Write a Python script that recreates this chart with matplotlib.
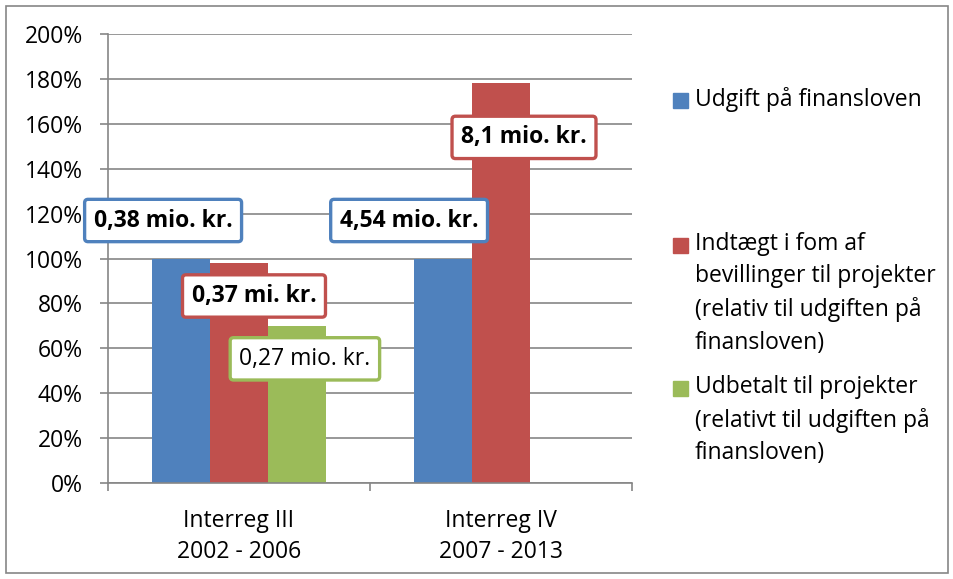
import numpy as np
import matplotlib.pyplot as plt
from matplotlib.patches import Rectangle

plt.rcParams["font.family"] = ["Open Sans", "DejaVu Sans"]

categories = ["Interreg III\n2002 - 2006", "Interreg IV\n2007 - 2013"]
series_names = [
    "Udgift på finansloven",
    "Indtægt i fom af\nbevillinger til projekter\n(relativ til udgiften på\nfinansloven)",
    "Udbetalt til projekter\n(relativt til udgiften på\nfinansloven)",
]
series_colors = ["#4F81BD", "#C0504D", "#9BBB59"]
udgift = [100, 100]
indtaegt = [98, 178]
udbetalt = [70, 0]
values = [udgift, indtaegt, udbetalt]

# data labels: (series, category, text, bold, offset in px from bar top centre)
labels = [
    (0, 0, "0,38 mio. kr.", True, (-18, 38)),
    (0, 1, "4,54 mio. kr.", True, (-34, 38)),
    (1, 0, "0,37 mi. kr.", True, (15, -33)),
    (1, 1, "8,1 mio. kr.", True, (23, -54)),
    (2, 0, "0,27 mio. kr.", False, (8, -33)),
]

fs = 16.5
fig = plt.figure(figsize=(9.54, 5.79), dpi=100)
ax = fig.add_axes([108 / 954, 1 - 483 / 579, 524 / 954, 449 / 579])

x = np.arange(len(categories))
width = 0.221
for i, (vals, col) in enumerate(zip(values, series_colors)):
    ax.bar(x + (i - 1) * width, vals, width, color=col, zorder=2)

ax.set_xlim(-0.5, 1.5)
ax.set_ylim(0, 200)
ax.set_yticks(np.arange(0, 201, 20))
ax.set_yticklabels([f"{v}%" for v in range(0, 201, 20)], fontsize=fs)
ax.set_xticks(x)
ax.set_xticklabels(categories, fontsize=fs, linespacing=1.35)
ax.set_xticks([-0.5, 0.5, 1.5], minor=True)
ax.tick_params(axis="x", which="major", length=0, pad=19)
ax.tick_params(axis="x", which="minor", length=6, color="#868686", width=1.2)
ax.tick_params(axis="y", length=6, color="#868686", width=1.2, pad=12)
ax.grid(axis="y", color="#868686", linewidth=1.2, zorder=0)
for s in ["top", "right"]:
    ax.spines[s].set_visible(False)
for s in ["left", "bottom"]:
    ax.spines[s].set_color("#868686")
    ax.spines[s].set_linewidth(1.2)

for si, ci, txt, bold, (dx, dy) in labels:
    xpos = x[ci] + (si - 1) * width
    ax.annotate(
        txt,
        xy=(xpos, values[si][ci]),
        xytext=(dx * 0.72, dy * 0.72),
        textcoords="offset points",
        ha="center",
        va="center",
        fontsize=fs,
        fontweight="bold" if bold else "normal",
        zorder=5,
        bbox=dict(
            boxstyle="round,pad=0.4,rounding_size=0.15",
            fc="white",
            ec=series_colors[si],
            lw=2.4,
        ),
    )

# legend, placed like the original
legend_y = [100, 245, 388]
for name, col, ly in zip(series_names, series_colors, legend_y):
    fig.add_artist(
        Rectangle(
            (673 / 954, 1 - (ly + 8) / 579),
            15 / 954,
            15 / 579,
            transform=fig.transFigure,
            color=col,
        )
    )
    fig.text(
        695 / 954,
        1 - (ly - 13) / 579,
        name,
        fontsize=fs,
        va="top",
        ha="left",
        linespacing=1.47,
    )

# outer chart border
fig.add_artist(
    Rectangle(
        (6 / 954, 6 / 579),
        942 / 954,
        567 / 579,
        transform=fig.transFigure,
        fill=False,
        ec="#868686",
        lw=1.2,
    )
)

fig.savefig("out.png", dpi=100)
